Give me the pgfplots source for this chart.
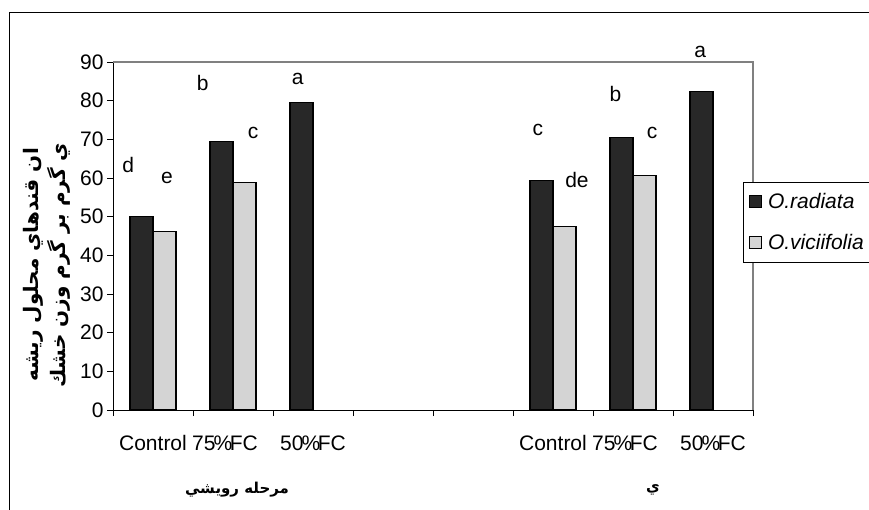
\documentclass[border=0pt]{standalone}
\usepackage{fontspec}
\setmainfont{Liberation Sans}
\newfontfamily\arabicfont[Script=Arabic]{DejaVu Sans}
\TeXXeTstate=1
\usepackage{pgfplots}
\pgfplotsset{compat=1.18}
\definecolor{darkbar}{RGB}{40,40,40}
\definecolor{lightbar}{RGB}{212,212,212}
\definecolor{frameg}{RGB}{128,128,128}
\newcommand{\pc}{\kern-2pt\%\kern-2.5pt}
\begin{document}
\begin{tikzpicture}[x=1pt,y=1pt]
\useasboundingbox (0,0) rectangle (869,509);
\clip (0,0) rectangle (869,509);
\draw[black, line width=0.8pt] (9,-10) -- (9,497) -- (880,497);
\begin{axis}[
  at={(113pt,99pt)}, anchor=south west,
  scale only axis, width=640pt, height=348pt,
  xmin=-0.5, xmax=7.5, ymin=0, ymax=90,
  ybar=0pt, bar width=23pt,
  axis x line*=bottom, axis y line*=left,
  axis line style={black, line width=0.8pt},
  clip=false,
  tick align=outside, major tick length=6pt,
  tick style={black, line width=0.8pt},
  ytick={0,10,...,90},
  xtick={-0.5,0.5,...,7.5},
  xticklabels={,,,,,,,,},
  extra x ticks={0,1,2,5,6,7},
  extra x tick labels={Control,\mbox{75\pc FC\kern16pt},50\pc FC,Control,\mbox{75\pc FC\kern16pt},50\pc FC},
  extra x tick style={major tick length=0pt, tick label style={yshift=-22pt}},
  tick label style={font=\fontsize{21}{25}\selectfont},
  /pgf/number format/assume math mode=true,
  legend style={at={(0.984,0.655)}, anchor=north west, draw=black, line width=0.6pt,
    font=\fontsize{21}{25}\selectfont\itshape, row sep=20pt, inner xsep=6pt, inner ysep=9pt},
  legend cell align=left,
  legend image code/.code={\draw[#1, line width=1pt] (0pt,-6pt) rectangle (12pt,6pt);},
]
\addplot[draw=black, line width=1.2pt, fill=darkbar] coordinates {(0,50.0) (1,69.4) (2,79.5) (5,59.3) (6,70.4) (7,82.3)};
\addplot[draw=black, line width=1.2pt, fill=lightbar] coordinates {(0,46.1) (1,58.9) (5,47.4) (6,60.6)};
\legend{\hspace{4pt}O.radiata,\hspace{4pt}O.viciifolia}
\draw[frameg, line width=1.2pt] (rel axis cs:0,1) -- (rel axis cs:1,1) -- (rel axis cs:1,0);
\begin{scope}[every node/.style={font=\fontsize{21}{25}\selectfont}]
\node at (axis cs:-0.31,63.4) {d};
\node at (axis cs:0.175,60.0) {e};
\node at (axis cs:0.62,84.6) {b};
\node at (axis cs:1.25,71.6) {c};
\node at (axis cs:1.81,85.5) {a};
\node at (axis cs:4.81,72.4) {c};
\node at (axis cs:5.30,59.5) {de};
\node at (axis cs:5.78,81.7) {b};
\node at (axis cs:6.24,71.6) {c};
\node at (axis cs:6.84,92.6) {a};
\end{scope}
\end{axis}
\node[rotate=90, anchor=west, font=\arabicfont\bfseries\fontsize{20}{24}\selectfont, inner sep=0pt] at (33,127) {\beginR ان قندهاي محلول ريشه\endR};
\node[rotate=90, anchor=west, font=\arabicfont\bfseries\fontsize{20}{24}\selectfont, inner sep=0pt] at (59,121) {\beginR ي گرم بر گرم وزن خشك\endR};
\node[font=\arabicfont\bfseries\fontsize{15}{18}\selectfont] at (237,19) {\beginR مرحله رويشي\endR};
\node[font=\arabicfont\bfseries\fontsize{15}{18}\selectfont] at (653,19) {\beginR ي\endR};
\end{tikzpicture}
\end{document}
